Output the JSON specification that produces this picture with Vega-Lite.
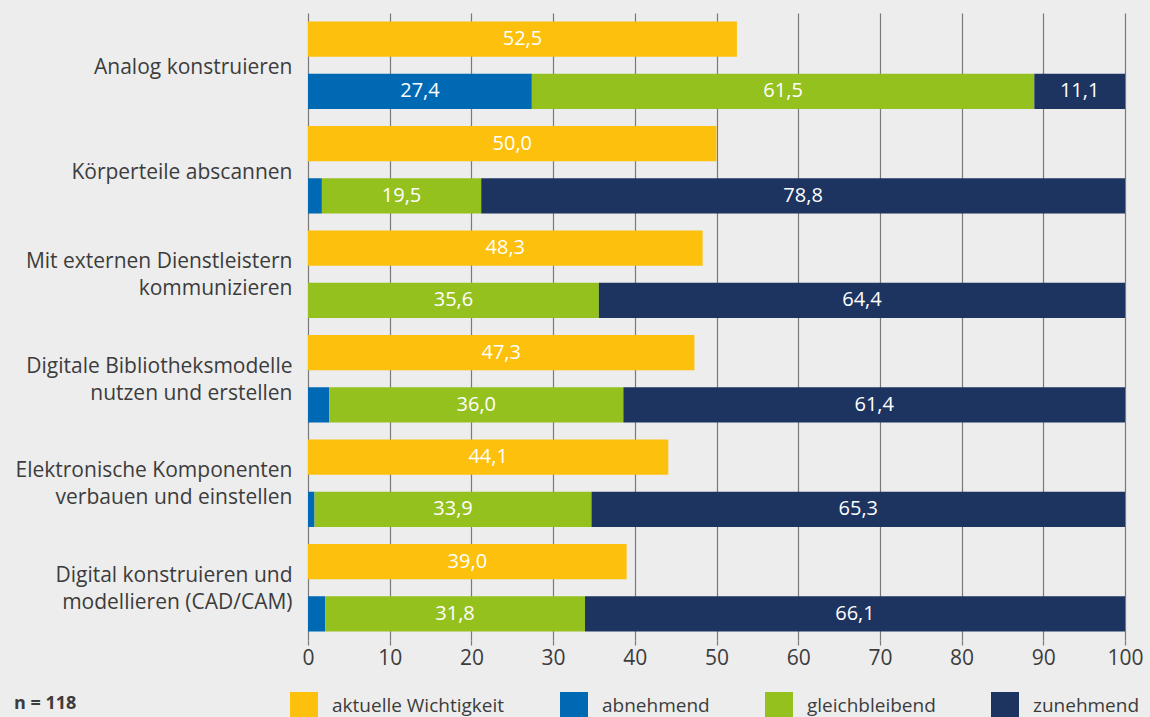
{
  "$schema": "https://vega.github.io/schema/vega-lite/v6.json",
  "width": 817,
  "height": 627,
  "autosize": "none",
  "padding": {"left": 308, "top": 13, "right": 25, "bottom": 77},
  "background": "#ededed",
  "config": {
    "font": "Open Sans",
    "view": {"stroke": null},
    "locale": {"number": {"decimal": ",", "thousands": ".", "grouping": [3], "currency": ["", " €"]}}
  },
  "title": {
    "text": "n = 118",
    "orient": "bottom",
    "anchor": "start",
    "frame": "group",
    "fontSize": 18,
    "fontWeight": "bold",
    "color": "#3c3c3c",
    "font": "Open Sans",
    "baseline": "middle",
    "offset": -16,
    "dx": -294
  },
  "data": {
    "values": [
      {"category": "Analog konstruieren", "kind": "aktuell", "series": "aktuelle Wichtigkeit", "value": 52.5},
      {"category": "Analog konstruieren", "kind": "trend", "series": "abnehmend", "value": 27.4},
      {"category": "Analog konstruieren", "kind": "trend", "series": "gleichbleibend", "value": 61.5},
      {"category": "Analog konstruieren", "kind": "trend", "series": "zunehmend", "value": 11.1},
      {"category": "Körperteile abscannen", "kind": "aktuell", "series": "aktuelle Wichtigkeit", "value": 50.0},
      {"category": "Körperteile abscannen", "kind": "trend", "series": "abnehmend", "value": 1.7},
      {"category": "Körperteile abscannen", "kind": "trend", "series": "gleichbleibend", "value": 19.5},
      {"category": "Körperteile abscannen", "kind": "trend", "series": "zunehmend", "value": 78.8},
      {"category": "Mit externen Dienstleistern|kommunizieren", "kind": "aktuell", "series": "aktuelle Wichtigkeit", "value": 48.3},
      {"category": "Mit externen Dienstleistern|kommunizieren", "kind": "trend", "series": "abnehmend", "value": 0},
      {"category": "Mit externen Dienstleistern|kommunizieren", "kind": "trend", "series": "gleichbleibend", "value": 35.6},
      {"category": "Mit externen Dienstleistern|kommunizieren", "kind": "trend", "series": "zunehmend", "value": 64.4},
      {"category": "Digitale Bibliotheksmodelle|nutzen und erstellen", "kind": "aktuell", "series": "aktuelle Wichtigkeit", "value": 47.3},
      {"category": "Digitale Bibliotheksmodelle|nutzen und erstellen", "kind": "trend", "series": "abnehmend", "value": 2.6},
      {"category": "Digitale Bibliotheksmodelle|nutzen und erstellen", "kind": "trend", "series": "gleichbleibend", "value": 36.0},
      {"category": "Digitale Bibliotheksmodelle|nutzen und erstellen", "kind": "trend", "series": "zunehmend", "value": 61.4},
      {"category": "Elektronische Komponenten|verbauen und einstellen", "kind": "aktuell", "series": "aktuelle Wichtigkeit", "value": 44.1},
      {"category": "Elektronische Komponenten|verbauen und einstellen", "kind": "trend", "series": "abnehmend", "value": 0.8},
      {"category": "Elektronische Komponenten|verbauen und einstellen", "kind": "trend", "series": "gleichbleibend", "value": 33.9},
      {"category": "Elektronische Komponenten|verbauen und einstellen", "kind": "trend", "series": "zunehmend", "value": 65.3},
      {"category": "Digital konstruieren und|modellieren (CAD/CAM)", "kind": "aktuell", "series": "aktuelle Wichtigkeit", "value": 39.0},
      {"category": "Digital konstruieren und|modellieren (CAD/CAM)", "kind": "trend", "series": "abnehmend", "value": 2.1},
      {"category": "Digital konstruieren und|modellieren (CAD/CAM)", "kind": "trend", "series": "gleichbleibend", "value": 31.8},
      {"category": "Digital konstruieren und|modellieren (CAD/CAM)", "kind": "trend", "series": "zunehmend", "value": 66.1}
    ]
  },
  "transform": [
    {"calculate": "indexof(['aktuelle Wichtigkeit','abnehmend','gleichbleibend','zunehmend'], datum.series)", "as": "ord"},
    {"stack": "value", "groupby": ["category", "kind"], "sort": [{"field": "ord", "order": "ascending"}], "as": ["x0", "x1"]},
    {"calculate": "(datum.x0 + datum.x1) / 2", "as": "mid"}
  ],
  "encoding": {
    "y": {
      "field": "category",
      "type": "nominal",
      "sort": null,
      "title": null,
      "scale": {"paddingInner": 0, "paddingOuter": 0},
      "axis": {
        "domain": false,
        "ticks": false,
        "labelExpr": "split(datum.label, '|')",
        "labelFontSize": 21,
        "labelColor": "#3c3c3c",
        "labelPadding": 16,
        "labelLineHeight": 27,
        "labelLimit": 400,
        "labelFont": "Open Sans",
        "labelOffset": {"condition": {"test": "indexof(datum.value, '|') >= 0", "value": -12}, "value": 3}
      }
    },
    "yOffset": {
      "field": "kind",
      "type": "nominal",
      "sort": ["aktuell", "trend"],
      "scale": {"paddingInner": 0.325, "paddingOuter": 0.1625}
    }
  },
  "layer": [
    {
      "mark": {"type": "bar"},
      "encoding": {
        "x": {
          "field": "x0",
          "type": "quantitative",
          "title": null,
          "scale": {"domain": [0, 100], "nice": false},
          "axis": {
            "values": [0, 10, 20, 30, 40, 50, 60, 70, 80, 90, 100],
            "domain": false,
            "grid": true,
            "gridColor": "#7a7a7a",
            "gridWidth": 1.2,
            "gridOpacity": 1,
            "tickColor": "#7a7a7a",
            "tickSize": 5,
            "tickWidth": 1.2,
            "labelFontSize": 21,
            "labelColor": "#3c3c3c",
            "labelPadding": 2,
            "labelFlush": false,
            "labelFont": "Open Sans",
            "zindex": 0
          }
        },
        "x2": {"field": "x1"},
        "color": {
          "field": "series",
          "type": "nominal",
          "scale": {
            "domain": ["aktuelle Wichtigkeit", "abnehmend", "gleichbleibend", "zunehmend"],
            "range": ["#fcc00d", "#0069b4", "#95c11f", "#1d3461"]
          },
          "legend": {
            "orient": "none",
            "legendX": -18,
            "legendY": 679,
            "direction": "horizontal",
            "title": null,
            "symbolType": "square",
            "symbolSize": 784,
            "symbolStrokeWidth": 0,
            "symbolOpacity": 1,
            "labelFontSize": 19,
            "labelColor": "#3c3c3c",
            "labelFont": "Open Sans",
            "columnPadding": 55,
            "labelOffset": 14,
            "labelLimit": 400
          }
        }
      }
    },
    {
      "transform": [{"filter": "datum.value >= 5"}],
      "mark": {"type": "text", "color": "white", "fontSize": 20, "align": "center", "baseline": "middle", "font": "Open Sans"},
      "encoding": {
        "x": {"field": "mid", "type": "quantitative"},
        "text": {"field": "value", "type": "quantitative", "format": ".1f"}
      }
    }
  ]
}
